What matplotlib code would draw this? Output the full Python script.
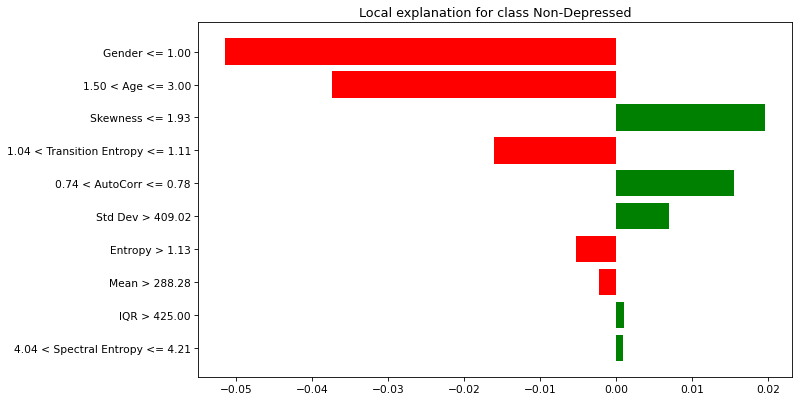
import matplotlib
matplotlib.use('Agg')
from matplotlib import pyplot as plt

# features and weights, top to bottom as shown
features = ['Gender <= 1.00', '1.50 < Age <= 3.00', 'Skewness <= 1.93',
            '1.04 < Transition Entropy <= 1.11', '0.74 < AutoCorr <= 0.78',
            'Std Dev > 409.02', 'Entropy > 1.13', 'Mean > 288.28',
            'IQR > 425.00', '4.04 < Spectral Entropy <= 4.21']
weights = [-0.05145, -0.03746, 0.0196, -0.01614, 0.01557,
           0.0069, -0.00535, -0.00224, 0.00105, 0.00087]

# lime draws from the bottom up, so reverse
names = features[::-1]
vals = weights[::-1]
colors = ['green' if v > 0 else 'red' for v in vals]
pos = list(range(len(vals)))

# low dpi so text and ticks come out scaled down like the reference
dpi = 76.6
fig = plt.figure(figsize=(800 / dpi, 403 / dpi), dpi=dpi)
plt.barh(pos, vals, align='center', color=colors)
plt.yticks(pos, names)
plt.title('Local explanation for class Non-Depressed')
plt.subplots_adjust(left=0.248, right=0.99, top=0.942, bottom=0.062)
plt.savefig('out.png', dpi=dpi)
